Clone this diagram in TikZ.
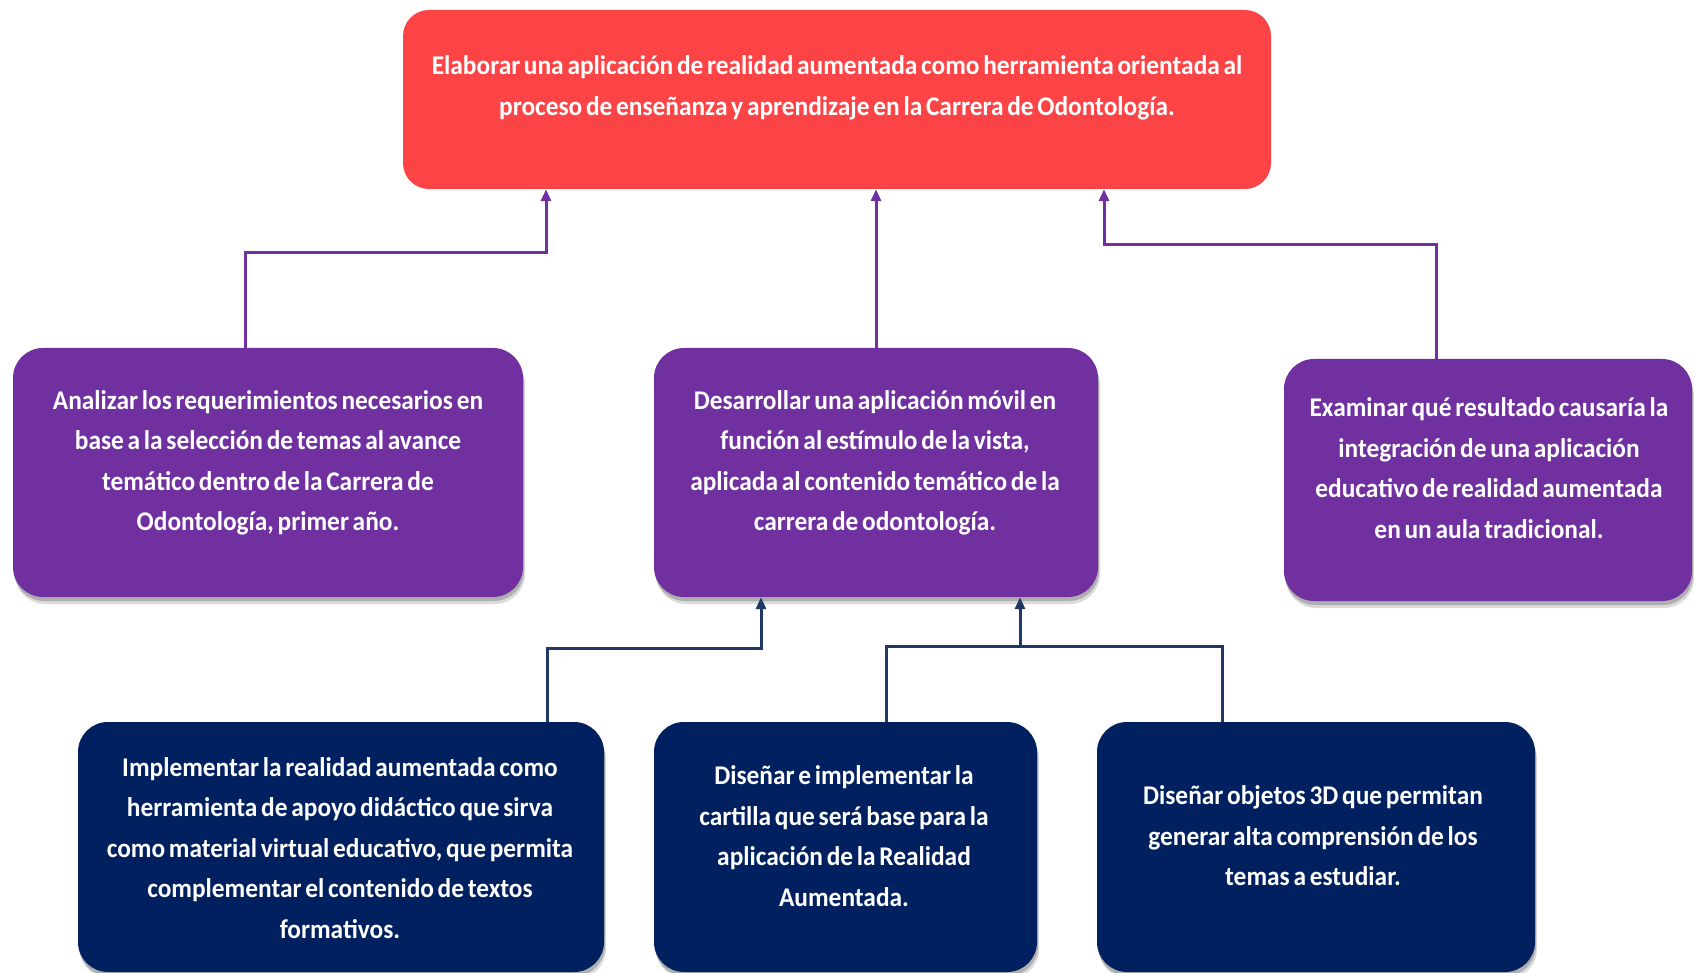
\documentclass[tikz,border=0pt]{standalone}
\usepackage{fontspec}
\setmainfont{Carlito}[FakeStretch=0.94, WordSpace=0.65]
\usetikzlibrary{arrows.meta,shadows,calc}
\definecolor{goalred}{RGB}{252,68,70}
\definecolor{objpurple}{RGB}{112,48,160}
\definecolor{taskblue}{RGB}{0,32,96}
\definecolor{linkblue}{RGB}{31,56,100}
\tikzset{
  card/.style={rounded corners=30pt, inner sep=0pt, draw=none},
  softshadow/.style={
    drop shadow={shadow xshift=1pt, shadow yshift=-4pt, fill=black, opacity=0.2},
    drop shadow={shadow xshift=2pt, shadow yshift=-7pt, fill=black, opacity=0.14}},
  goalbox/.style={card, fill=goalred, rounded corners=26pt},
  objbox/.style={card, softshadow, fill=objpurple},
  taskbox/.style={card, softshadow, fill=taskblue},
  label/.style={text=white, align=center, inner sep=0pt,
    font=\bfseries\fontsize{27pt}{40.5pt}\selectfont},
  plink/.style={draw=objpurple, line width=3pt,
    -{Triangle[width=10pt,length=12pt]}},
  blink/.style={draw=linkblue, line width=3pt,
    -{Triangle[width=10pt,length=12pt]}},
  bjoin/.style={draw=linkblue, line width=3pt},
}
\begin{document}
\begin{tikzpicture}[x=1pt,y=1pt]
\useasboundingbox[fill=white] (0,0) rectangle (1694,-973);

% general objective
\node[goalbox, minimum width=868pt, minimum height=179pt] (goal) at (837,-99.5) {};
\node[label] (goaltxt) at (837,-88) {Elaborar una aplicación de realidad aumentada como herramienta orientada al\\proceso de enseñanza y aprendizaje en la Carrera de Odontología.};

% specific objectives
\node[objbox, minimum width=510pt, minimum height=249pt] (o1) at (268,-472.5) {};
\node[label] (o1txt) at (268,-463) {Analizar los requerimientos necesarios en\\base a la selección de temas al avance\\temático dentro de la Carrera de\\Odontología, primer año.};

\node[objbox, minimum width=444pt, minimum height=249pt] (o2) at (876,-472.5) {};
\node[label] (o2txt) at (875,-463) {Desarrollar una aplicación móvil en\\función al estímulo de la vista,\\aplicada al contenido temático de la\\carrera de odontología.};

\node[objbox, minimum width=408pt, minimum height=242pt] (o3) at (1488,-480) {};
\node[label] (o3txt) at (1489,-468) {Examinar qué resultado causaría la\\integración de una aplicación\\educativo de realidad aumentada\\en un aula tradicional.};

% activities
\node[taskbox, minimum width=526pt, minimum height=250pt] (a1) at (341,-847) {};
\node[label] (a1txt) at (340,-848) {Implementar la realidad aumentada como\\herramienta de apoyo didáctico que sirva\\como material virtual educativo, que permita\\complementar el contenido de textos\\formativos.};

\node[taskbox, minimum width=383pt, minimum height=250pt] (a2) at (845.5,-847) {};
\node[label] (a2txt) at (844,-836) {Diseñar e implementar la\\cartilla que será base para la\\aplicación de la Realidad\\Aumentada.};

\node[taskbox, minimum width=438pt, minimum height=250pt] (a3) at (1316,-847) {};
\node[label] (a3txt) at (1313,-836) {Diseñar objetos 3D que permitan\\generar alta comprensión de los\\temas a estudiar.};

% objective links
\draw[plink] ([xshift=-23pt]o1.north) -- ++(0,95) -| ([xshift=-291pt]goal.south);
\draw[plink] (o2.north) -- (o2.north |- goal.south);
\draw[plink] ([xshift=-52pt]o3.north) -- ++(0,114) -| ([xshift=267pt]goal.south);

% activity links
\draw[blink] ([xshift=206pt]a1.north) -- ++(0,73) -| ([xshift=-115pt]o2.south);
\coordinate (join) at ($(o2.south)+(144,-49)$);
\draw[bjoin] ([xshift=40.5pt]a2.north) |- (join);
\draw[bjoin] ([xshift=-94pt]a3.north) |- (join);
\draw[blink] (join) -- (join |- o2.south);
\end{tikzpicture}
\end{document}
